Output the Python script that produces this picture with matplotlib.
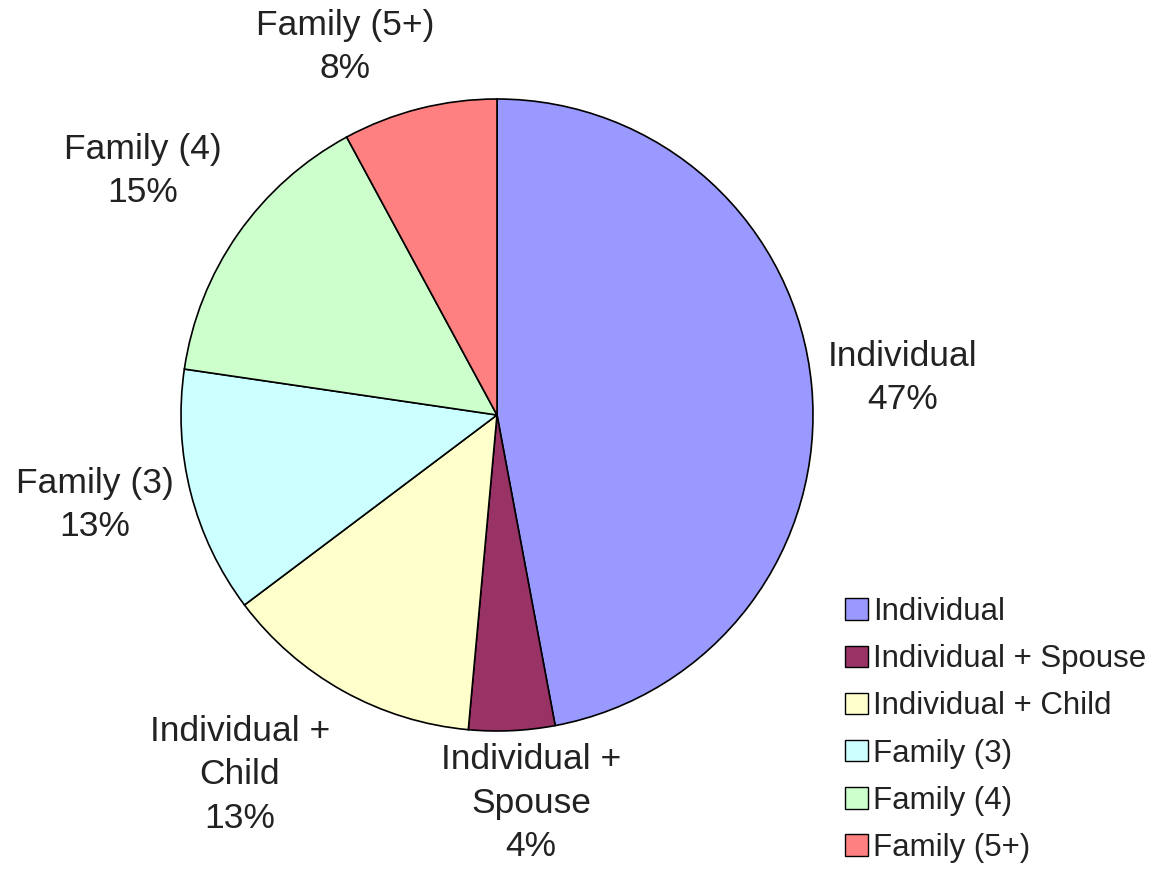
import matplotlib
matplotlib.use("Agg")
import matplotlib.pyplot as plt
import matplotlib.patches as mpatches

plt.rcParams['font.family'] = ['Liberation Sans', 'DejaVu Sans']

categories = ["Individual", "Individual + Spouse", "Individual + Child",
              "Family (3)", "Family (4)", "Family (5+)"]
pie_labels = ["Individual", "Individual +\nSpouse", "Individual +\nChild",
              "Family (3)", "Family (4)", "Family (5+)"]
values = [47.1, 4.4, 13.3, 12.6, 14.8, 7.9]
colors = ["#9999FF", "#993366", "#FFFFCC", "#CCFFFF", "#CCFFCC", "#FF8080"]

W, H = 1158, 877
fig = plt.figure(figsize=(W / 100, H / 100), dpi=100)
ax = fig.add_axes([0, 0, 1, 1])
ax.set_xlim(0, W)
ax.set_ylim(0, H)
ax.axis("off")

cx, cy, r = 497, H - 415, 316
wedges, _ = ax.pie(values, colors=colors, startangle=90, counterclock=False,
                   center=(cx, cy), radius=r,
                   wedgeprops=dict(edgecolor="black", linewidth=1.2))
ax.set_xlim(0, W)
ax.set_ylim(0, H)
ax.set_aspect("auto")

# label positions (pixel layout, from image top-left)
label_pos = [(903, 378), (531, 803), (240, 775), (95, 505), (143, 171), (345, 47)]
total = sum(values)
for lab, v, (x, y) in zip(pie_labels, values, label_pos):
    ax.text(x, H - y, f"{lab}\n{v / total * 100:.0f}%", ha="center", va="center",
            fontsize=25.5, color="#222222", linespacing=1.42)

handles = [mpatches.Patch(facecolor=c, edgecolor="black", linewidth=1.0) for c in colors]
fig.legend(handles, categories, loc="upper left", bbox_to_anchor=(845 / W, 1 - 597 / H),
           frameon=False, fontsize=22.5, handlelength=0.72, handleheight=0.68,
           handletextpad=0.18, labelspacing=0.55, borderpad=0, borderaxespad=0,
           labelcolor="#222222")

fig.savefig("out.png", dpi=100)
